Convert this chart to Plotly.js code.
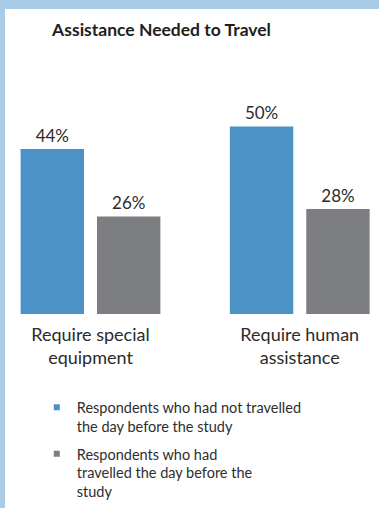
<!DOCTYPE html>
<html>
<head>
<meta charset="utf-8">
<script src="https://cdn.plot.ly/plotly-3.0.1.min.js"></script>
<style>
  html, body { margin: 0; padding: 0; }
  body { width: 379px; height: 508px; background: #a8cce7; overflow: hidden; }
  #frame { position: absolute; left: 5px; top: 9px; width: 374px; height: 499px; background: #ffffff; }
  #chart { width: 374px; height: 499px; }
</style>
</head>
<body>
<div id="frame"><div id="chart"></div></div>
<script>
// Share of respondents needing each kind of help, by travel status
const categories = ["Require special<br>equipment", "Require human<br>assistance"];
const seriesNames = [
  "Respondents who had not travelled<br>the day before the study",
  "Respondents who had<br>travelled the day before the<br>study"
];
const notTravelled = [44, 50];
const travelled = [26, 28];
const colors = ["#4b93c7", "#7c7e82"];

const fontFamily = "Lato, 'Open Sans', sans-serif";
const textColor = "#2b2b2b";

function barTrace(values, color) {
  return {
    type: "bar",
    x: categories,
    y: values,
    marker: { color: color },
    text: values.map(v => v + "%"),
    textposition: "outside",
    constraintext: "none",
    textfont: { family: fontFamily, size: 17, color: textColor },
    cliponaxis: false,
    hoverinfo: "skip",
    showlegend: false
  };
}

// Small square keys for the legend, kept on their own hidden axes
function keyTrace(name, color, group) {
  return {
    type: "scatter",
    mode: "markers",
    x: [null], y: [null],
    xaxis: "x2", yaxis: "y2",
    name: name,
    legendgroup: group,
    marker: { symbol: "square", size: 6, color: color },
    hoverinfo: "skip"
  };
}

const data = [
  barTrace(notTravelled, colors[0]),
  barTrace(travelled, colors[1]),
  keyTrace(seriesNames[0], colors[0], "a"),
  keyTrace(seriesNames[1], colors[1], "b")
];

const layout = {
  width: 374,
  height: 499,
  margin: { l: 0, r: 0, t: 60, b: 194, autoexpand: false },
  paper_bgcolor: "#ffffff",
  plot_bgcolor: "#ffffff",
  barmode: "group",
  bargap: 0.27,
  bargroupgap: 0.17,
  font: { family: fontFamily, size: 14, color: textColor },
  title: {
    text: "<b>Assistance Needed to Travel</b>",
    font: { family: fontFamily, size: 17.5, color: "#1e1e1e" },
    xref: "container", x: 0.126, xanchor: "left",
    yref: "container", y: 0.958, yanchor: "middle"
  },
  xaxis: {
    type: "category",
    range: [-0.4086, 1.3787],
    showline: false, showgrid: false, zeroline: false,
    ticks: "",
    tickangle: 0,
    ticklabelstandoff: 8,
    tickfont: { family: fontFamily, size: 18, color: textColor }
  },
  yaxis: {
    range: [0, 65.3],
    visible: false,
    showgrid: false, zeroline: false
  },
  xaxis2: { visible: false, overlaying: "x", range: [0, 1] },
  yaxis2: { visible: false, overlaying: "y", range: [0, 1] },
  legend: {
    xref: "container", x: 0.085, xanchor: "left",
    yref: "container", y: 0.234, yanchor: "top",
    valign: "top",
    traceorder: "grouped",
    tracegroupgap: 6,
    font: { family: fontFamily, size: 14.5, color: "#2e2e2e" },
    bgcolor: "rgba(0,0,0,0)",
    itemclick: false, itemdoubleclick: false
  },
  showlegend: true
};

Plotly.newPlot("chart", data, layout, { displayModeBar: false, staticPlot: true });
</script>
</body>
</html>
